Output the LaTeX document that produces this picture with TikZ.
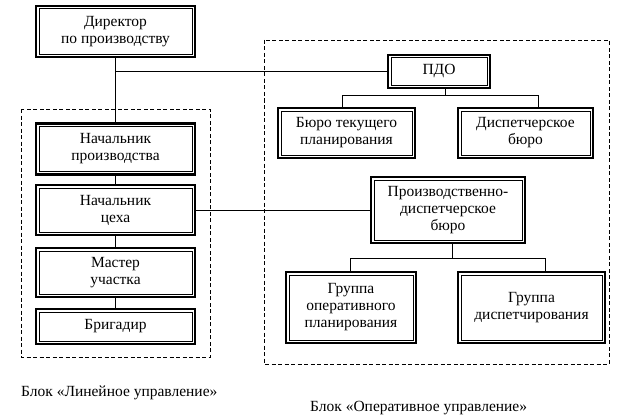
\documentclass[tikz,border=0pt]{standalone}
\usepackage{fontspec}
\setmainfont{Liberation Serif}
\begin{document}
\begin{tikzpicture}[x=1pt,y=-1pt,
  dbox/.style={draw, line width=2.2pt, align=center, inner sep=0pt,
    font=\fontsize{15.5}{17}\selectfont,
    path picture={\draw[line width=0.6pt]
      ([shift={(2.8pt,2.8pt)}]path picture bounding box.south west) rectangle
      ([shift={(-2.8pt,-2.8pt)}]path picture bounding box.north east);}},
  conn/.style={draw, line width=0.8pt},
  block/.style={draw, line width=0.6pt, dash pattern=on 4pt off 2.5pt},
  lbl/.style={font=\fontsize{15.5}{17}\selectfont, inner sep=0pt}]
\useasboundingbox (0,0) rectangle (617,417);
% dashed blocks
\draw[block] (21,109) rectangle (210,357);
\draw[block] (264,40) rectangle (609,364);
% left column
\node[dbox, minimum width=159pt, minimum height=51pt] (dir) at (115.5,31.5) {Директор\\по производству};
\node[dbox, minimum width=159pt, minimum height=51pt] (np) at (115.5,149) {Начальник\\производства};
\node[dbox, minimum width=159pt, minimum height=50pt] (nc) at (115.5,210) {Начальник\\цеха};
\node[dbox, minimum width=159pt, minimum height=49pt] (mu) at (115.5,272.5) {Мастер\\участка};
\node[dbox, minimum width=159pt, minimum height=35pt] (br) at (115.5,326.5) {Бригадир};
% right part
\node[dbox, minimum width=102pt, minimum height=33pt] (pdo) at (439,71.5) {ПДО};
\node[dbox, minimum width=137pt, minimum height=50pt] (btp) at (346.5,133) {Бюро текущего\\планирования};
\node[dbox, minimum width=135pt, minimum height=50pt] (db) at (525.5,133) {Диспетчерское\\бюро};
\node[dbox, minimum width=154pt, minimum height=66pt] (pdb) at (448,210) {Производственно-\\диспетчерское\\бюро};
\node[dbox, minimum width=130pt, minimum height=71pt] (gop) at (351,307.5) {Группа\\оперативного\\планирования};
\node[dbox, minimum width=147pt, minimum height=71pt] (gd) at (531.5,307.5) {Группа\\диспетчирования};
% connectors
\draw[conn] (dir.south) -- (np.north);
\draw[conn] (pdo.west) -- (pdo.west -| dir.south);
\draw[conn] (np.south) -- (nc.north);
\draw[conn] (nc.south) -- (mu.north);
\draw[conn] (mu.south) -- (br.north);
\draw[conn] (nc.east) -- (pdb.west);
\coordinate (pdoj) at ([xshift=6pt,yshift=-6pt]pdo.south);
\draw[conn] ([xshift=6pt]pdo.south) -- (pdoj);
\draw[conn] (pdoj) -| ([xshift=-4.5pt]btp.north);
\draw[conn] (pdoj) -| ([xshift=12.5pt]db.north);
\coordinate (pdbj) at ([xshift=4pt,yshift=-14pt]pdb.south);
\draw[conn] ([xshift=4pt]pdb.south) -- (pdbj);
\draw[conn] (pdbj) -| ([xshift=-1pt]gop.north);
\draw[conn] (pdbj) -| ([xshift=13.5pt]gd.north);
% labels
\node[lbl, anchor=west] (l1) at (21,393) {Блок «Линейное управление»};
\node[lbl, anchor=west] (l2) at (310,408) {Блок «Оперативное управление»};
\end{tikzpicture}
\end{document}
